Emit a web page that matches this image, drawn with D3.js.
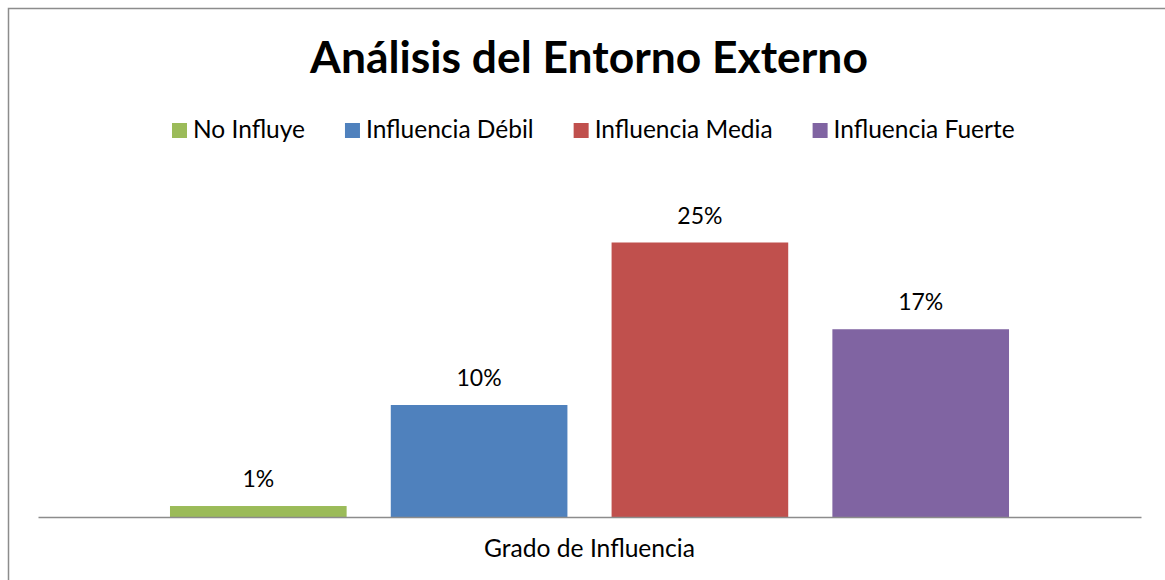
<!DOCTYPE html>
<html>
<head>
<meta charset="utf-8">
<script src="https://cdn.jsdelivr.net/npm/d3@7"></script>
<style>
  body { margin: 0; background: #fff; }
  svg text { font-family: Lato, "Open Sans", sans-serif; fill: #000; }
</style>
</head>
<body>
<svg id="chart" width="1165" height="580"></svg>
<script>
const categories = ['Grado de Influencia'];
const series = ['No Influye', 'Influencia Débil', 'Influencia Media', 'Influencia Fuerte'];
const values = [1.0, 10.2, 25.0, 17.1];
const colors = ['#9BBB59', '#4F81BD', '#C0504D', '#8064A2'];

const svg = d3.select('#chart');

// size a text node so it spans the wanted width
const fit = (sel, width) => {
  const w = sel.node().getComputedTextLength();
  const fs = parseFloat(sel.attr('font-size'));
  sel.attr('font-size', fs * width / w);
};

// chart border (runs off the right and bottom of the picture)
svg.append('rect')
  .attr('x', 8.5).attr('y', 8.5)
  .attr('width', 1200).attr('height', 620)
  .attr('fill', 'none').attr('stroke', '#8c8c8c').attr('stroke-width', 1.5);

const plot = { left: 38, right: 1141, bottom: 517 };

const x0 = d3.scaleBand().domain(categories)
  .range([plot.left, plot.right]).paddingInner(0).paddingOuter(0.1573);
const x1 = d3.scaleBand().domain(series)
  .range([0, x0.bandwidth()]).paddingInner(0.2);
const y = d3.scaleLinear().domain([0, 30]).range([plot.bottom, plot.bottom - 30 * 10.98]);

const g = svg.append('g');
const cat = categories[0];
const data = series.map((s, i) => ({ s, v: values[i], c: colors[i] }));

g.selectAll('rect.bar').data(data).enter().append('rect')
  .attr('class', 'bar')
  .attr('x', d => x0(cat) + x1(d.s))
  .attr('width', x1.bandwidth())
  .attr('y', d => y(d.v))
  .attr('height', d => y(0) - y(d.v))
  .attr('fill', d => d.c);

g.selectAll('text.lbl').data(data).enter().append('text')
  .attr('class', 'lbl')
  .attr('x', d => x0(cat) + x1(d.s) + x1.bandwidth() / 2)
  .attr('y', d => y(d.v) - 19)
  .attr('text-anchor', 'middle')
  .attr('font-size', 23)
  .text(d => d3.format('.0f')(d.v) + '%');

// category axis
const axis = svg.append('g').attr('transform', `translate(0,${plot.bottom})`)
  .call(d3.axisBottom(x0).tickSize(0).tickPadding(0).tickFormat(''));
axis.select('.domain').attr('stroke', '#8c8c8c').attr('stroke-width', 1.5);
axis.selectAll('.tick').remove();

const xl = svg.append('text')
  .attr('x', x0(cat) + x0.bandwidth() / 2).attr('y', 557)
  .attr('text-anchor', 'middle').attr('font-size', 24)
  .text(cat);
fit(xl, 211);

// title
const title = svg.append('text')
  .attr('x', 589).attr('y', 73)
  .attr('text-anchor', 'middle').attr('font-size', 44).attr('font-weight', 'bold')
  .text('Análisis del Entorno Externo');
fit(title, 558);

// legend
const leg = svg.append('g');
const items = leg.selectAll('g').data(data).enter().append('g');
items.append('rect').attr('width', 15).attr('height', 15).attr('y', 123)
  .attr('fill', d => d.c);
items.append('text').attr('y', 138).attr('font-size', 24).text(d => d.s);
let total = 0;
items.each(function () { total += 21 + d3.select(this).select('text').node().getComputedTextLength(); });
const ls = (843 - 40 * 3 - 21 * 4) / (total - 21 * 4);
items.select('text').attr('font-size', 24 * ls);
let cx = 172;
items.each(function () {
  const it = d3.select(this);
  it.select('rect').attr('x', cx);
  it.select('text').attr('x', cx + 21);
  cx += 21 + it.select('text').node().getComputedTextLength() + 40;
});
</script>
</body>
</html>
